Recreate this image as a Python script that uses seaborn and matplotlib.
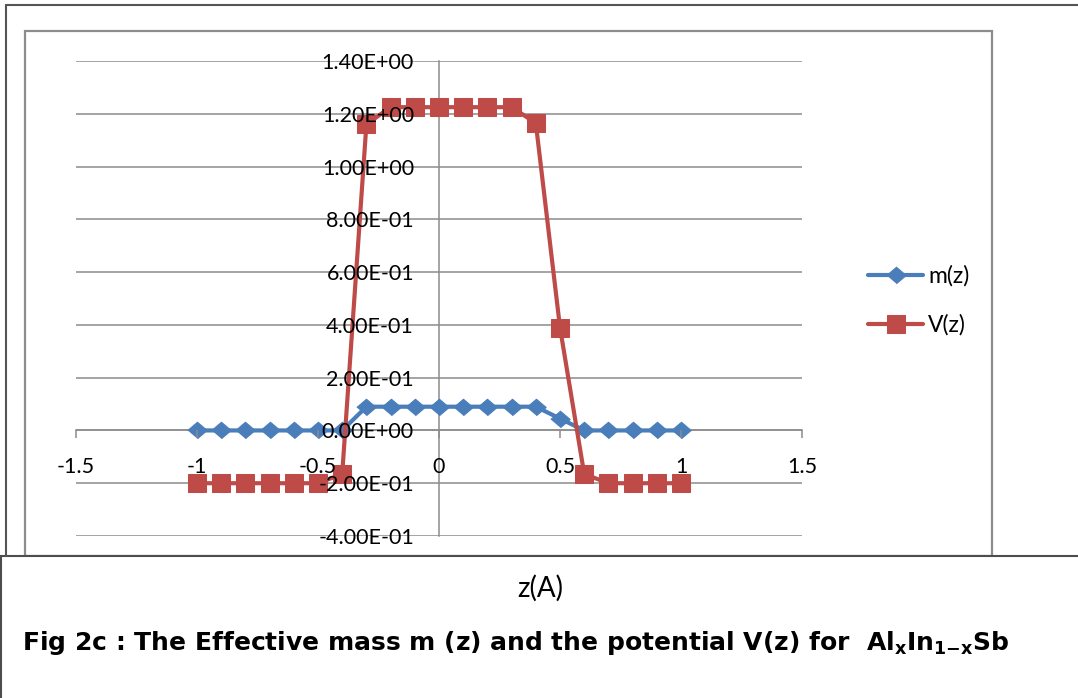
import matplotlib
matplotlib.use('Agg')
import matplotlib.pyplot as plt
from matplotlib.lines import Line2D
from matplotlib.patches import Rectangle
import seaborn as sns

sns.set_style('white')
plt.rcParams['font.family'] = ['Lato', 'DejaVu Sans']
plt.rcParams['mathtext.fontset'] = 'dejavusans'
plt.rcParams['text.color'] = 'black'

W, H = 1078, 698

# data
z = [-1.0, -0.9, -0.8, -0.7, -0.6, -0.5, -0.4, -0.3, -0.2, -0.1, 0.0,
     0.1, 0.2, 0.3, 0.4, 0.5, 0.6, 0.7, 0.8, 0.9, 1.0]
m_z = [0.0, 0.0, 0.0, 0.0, 0.0, 0.0, 0.0, 0.09, 0.09, 0.09, 0.09,
       0.09, 0.09, 0.09, 0.09, 0.045, 0.0, 0.0, 0.0, 0.0, 0.0]
v_z = [-0.2, -0.2, -0.2, -0.2, -0.2, -0.2, -0.165, 1.16, 1.225, 1.225, 1.225,
       1.225, 1.225, 1.225, 1.165, 0.39, -0.165, -0.2, -0.2, -0.2, -0.2]
y_ticks = [-0.4, -0.2, 0.0, 0.2, 0.4, 0.6, 0.8, 1.0, 1.2, 1.4]
x_ticks = [-1.5, -1, -0.5, 0, 0.5, 1, 1.5]
x_labels = ['-1.5', '-1', '-0.5', '0', '0.5', '1', '1.5']

BLUE = '#4a7ebb'
RED = '#be4b48'
GRID = '#8c8c8c'


def fx(px):
    return px / W


def fy(py):
    return 1 - py / H


fig = plt.figure(figsize=(W / 100, H / 100), dpi=100)

# frames around the chart (as in the source document)
fig.add_artist(Line2D([fx(6), fx(1078)], [fy(5), fy(5)], color='#555555', lw=1.5))
fig.add_artist(Line2D([fx(6), fx(6)], [fy(5), fy(556)], color='#555555', lw=1.5))
fig.add_artist(Rectangle((fx(25), fy(556)), fx(992) - fx(25), fy(31) - fy(556),
                         fill=False, edgecolor=GRID, lw=1.6))

ax = fig.add_axes([fx(76), fy(536), fx(802) - fx(76), fy(61) - fy(536)])
ax.set_facecolor('none')

for yv in y_ticks:
    ax.axhline(yv, color=GRID, lw=1.1, zorder=0.5)

diamond = [(-1, 0), (0, 0.85), (1, 0), (0, -0.85)]
sns.lineplot(x=z, y=m_z, color=BLUE, lw=3, marker=diamond, markersize=14,
             markeredgecolor=BLUE, label='m(z)', ax=ax, zorder=2)
sns.lineplot(x=z, y=v_z, color=RED, lw=3, marker='s', markersize=13,
             markeredgecolor=RED, label='V(z)', ax=ax, zorder=2.1)

ax.set_xlim(-1.5, 1.5)
ax.set_ylim(-0.4, 1.4)
ax.set_axisbelow(False)

for side in ['top', 'right']:
    ax.spines[side].set_visible(False)
ax.spines['left'].set_position(('data', 0))
ax.spines['bottom'].set_position(('data', 0))
for side in ['left', 'bottom']:
    ax.spines[side].set_color(GRID)
    ax.spines[side].set_linewidth(1.1)
    ax.spines[side].set_zorder(0.6)

ax.set_yticks(y_ticks)
ax.set_yticklabels(['%.2E' % v for v in y_ticks])
ax.set_xticks(x_ticks)
ax.set_xticklabels(x_labels)
ax.tick_params(axis='y', length=0, pad=18, labelsize=15.5, labelcolor='black')
ax.tick_params(axis='x', length=6, width=1.1, color=GRID, direction='out',
               pad=13, labelsize=15.5, labelcolor='black', bottom=True)
ax.set_xlabel('')
ax.set_ylabel('')

ax.legend(loc='center left', bbox_to_anchor=(fx(857), fy(300.5)),
          bbox_transform=fig.transFigure, frameon=False, fontsize=16.5,
          borderpad=0, handlelength=2.4, handletextpad=0.2, labelspacing=1.2)

# lower caption box
fig.add_artist(Rectangle((fx(1), fy(700)), fx(1080) - fx(1), fy(556) - fy(700),
                         facecolor='white', edgecolor='#4d4d4d', lw=1.5))
fig.text(fx(540), fy(588), 'z(A)', ha='center', va='center', fontsize=20)
fig.text(fx(22), fy(650),
         r'Fig 2c : The Effective mass m (z) and the potential V(z) for  '
         r'Al$_{\mathbf{x}}$In$_{\mathbf{1{-}x}}$Sb',
         ha='left', va='baseline', fontsize=18, fontweight='bold',
         family='DejaVu Sans')

fig.savefig('out.png', dpi=100)
